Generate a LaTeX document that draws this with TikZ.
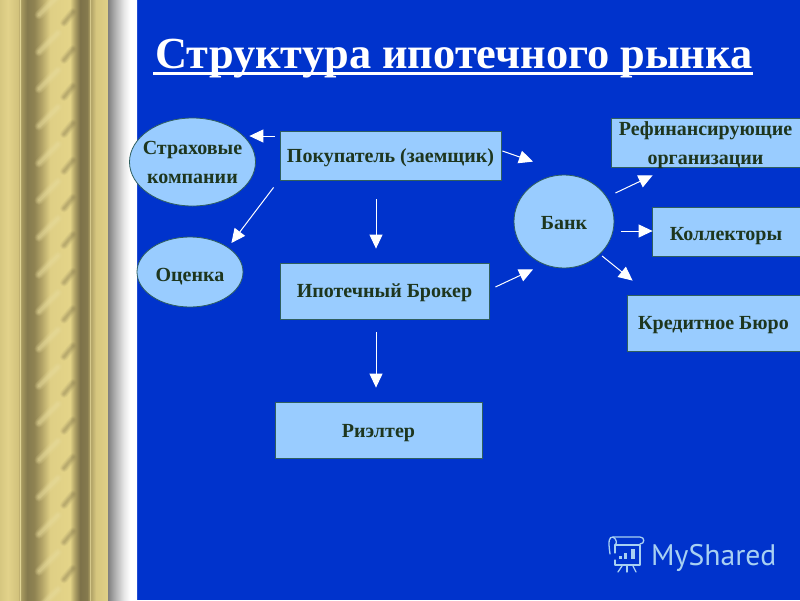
\documentclass[tikz,border=0pt]{standalone}
\usepackage{fontspec}
\setmainfont{Liberation Serif}
\newfontfamily\logofont{PT Sans}
\usetikzlibrary{arrows.meta,shapes.geometric}
\definecolor{bluebg}{HTML}{0033CC}
\definecolor{boxfill}{HTML}{99CCFF}
\definecolor{boxedge}{HTML}{2F5F5F}
\definecolor{ink}{HTML}{1E361E}
\definecolor{logoc}{HTML}{A8D0F2}
\definecolor{cA}{HTML}{D6C780}\definecolor{cB}{HTML}{E2D28A}\definecolor{cC}{HTML}{D2C27C}
\definecolor{cD}{HTML}{B8A96C}\definecolor{cE}{HTML}{E8DC9C}\definecolor{cF}{HTML}{A89A60}
\definecolor{cG}{HTML}{857A4E}\definecolor{cH}{HTML}{8F8352}\definecolor{cI}{HTML}{B4A568}
\definecolor{cJ}{HTML}{DFCF85}\definecolor{cK}{HTML}{E4D488}\definecolor{cL}{HTML}{B0A266}
\definecolor{cM}{HTML}{7C7149}\definecolor{cN}{HTML}{D6C67E}\definecolor{cO}{HTML}{DFD087}
\definecolor{gA}{HTML}{7F7F7F}\definecolor{gB}{HTML}{B0B0B0}\definecolor{gC}{HTML}{E8E8E8}
\pgfdeclarehorizontalshading{columnshade}{100bp}{
color(0bp)=(cA);color(25bp)=(cA);color(27.9bp)=(cB);color(31.6bp)=(cC);color(32.1bp)=(cD);
color(32.3bp)=(cE);color(32.7bp)=(cF);color(34.9bp)=(cG);color(37.5bp)=(cH);color(40.3bp)=(cI);
color(43.3bp)=(cJ);color(50.5bp)=(cK);color(52.2bp)=(cL);color(54.2bp)=(cM);color(56.8bp)=(cG);
color(57.7bp)=(cF);color(57.9bp)=(cE);color(58.2bp)=(cL);color(60bp)=(cN);color(64.2bp)=(cO);
color(64.4bp)=(gA);color(67bp)=(gB);color(70.3bp)=(gC);color(72.5bp)=(white);color(100bp)=(white)}
\tikzset{
  lbl/.style={font=\fontsize{20}{29}\selectfont\bfseries,text=ink,align=center,inner sep=0pt},
  rbox/.style={lbl,rectangle,draw=boxedge,line width=.8pt,fill=boxfill},
  ebox/.style={lbl,ellipse,draw=boxedge,line width=.8pt,fill=boxfill},
  arr/.style={draw=white,line width=1pt,-{Triangle[length=14pt,width=13pt,fill=white]}},
  glow/.style={line cap=round,color=cE},
  logoline/.style={draw=logoc,line width=1.3pt,line cap=round,line join=round}
}
\begin{document}
\begin{tikzpicture}[x=1pt,y=-1pt]
\useasboundingbox (0,0) rectangle (800,600);
\clip (0,0) rectangle (800,600);
\fill[bluebg] (0,0) rectangle (800,600);
\shade[shading=columnshade] (0,0) rectangle (137,600);
% twist highlights of the column
\foreach \k in {-1,...,15}{
  \pgfmathsetmacro{\yy}{53+37.1*\k}
  \foreach \w/\o in {9/.12,7/.16,5/.22,3/.3}{
    \draw[glow,line width=\w pt,opacity=\o] (39,\yy-1) -- (58,\yy-20);
  }
  \foreach \w/\o in {8/.08,6/.1,4/.14,2/.14}{
    \draw[color=cM,line cap=round,line width=\w pt,opacity=\o] (64,\yy+7) -- (73,\yy-4);
  }
}
% title
\node[anchor=base west,inner sep=0pt,text=white,font=\fontsize{44.4}{50}\selectfont\bfseries] (title) at (155,68) {Структура ипотечного рынка};
\draw[white,line width=3pt] ([shift={(-2,5.5)}]title.base west) -- ([shift={(0,5.5)}]title.base east);
% nodes
\node[ebox,inner xsep=-6pt,minimum width=126pt,minimum height=88pt] (ins) at (192.5,162) {Страховые\\компании};
\node[ebox,text height=18.6pt,text depth=0pt,minimum width=106pt,minimum height=70pt] (ocenka) at (190,272) {Оценка};
\node[rbox,text height=13.4pt,text depth=0pt,minimum width=221pt,minimum height=49pt] (buyer) at (390.5,155.5) {Покупатель (заемщик)};
\node[rbox,text height=13.2pt,text depth=0pt,minimum width=209pt,minimum height=56pt] (broker) at (384.5,291) {Ипотечный Брокер};
\node[rbox,text height=15.2pt,text depth=0pt,minimum width=207pt,minimum height=56pt] (realtor) at (378.5,430) {Риэлтер};
\node[ebox,text height=15.4pt,text depth=0pt,minimum width=100pt,minimum height=93pt] (bank) at (564,221.5) {Банк};
\node[rbox,inner ysep=-3pt,minimum width=189pt,minimum height=49pt] (refi) at (705.5,142.5) {\rule{0pt}{18.6pt}Рефинансирующие\\организации};
\node[rbox,text height=17.2pt,text depth=0pt,minimum width=148pt,minimum height=49pt] (koll) at (726,231.5) {Коллекторы};
\node[rbox,text height=13.2pt,text depth=0pt,minimum width=173pt,minimum height=56pt] (credit) at (713.5,323) {Кредитное Бюро};
% connectors
\draw[arr] ([shift={(-5,-19.5)}]buyer.west) -- ([shift={(-6.5,-26)}]ins.east);
\draw[arr] ([shift={(-6,7)}]buyer.south west) -- ([shift={(-12,-29)}]ocenka.east);
\draw[arr] ([shift={(-14.5,19)}]buyer.south) -- ([shift={(-8.5,-14)}]broker.north);
\draw[arr] ([shift={(-8.5,13)}]broker.south) -- ([shift={(-2.5,-14)}]realtor.north);
\draw[arr] ([shift={(1,-4.5)}]buyer.east) -- ([shift={(-31,-13)}]bank.north);
\draw[arr] ([shift={(6,-4)}]broker.east) -- ([shift={(-31,1)}]bank.south);
\draw[arr] ([shift={(1,-28.5)}]bank.east) -- ([shift={(42,8)}]refi.south west);
\draw[arr] ([shift={(7,9.5)}]bank.east) -- ([shift={(1,-.5)}]koll.west);
\draw[arr] ([shift={(-12.3,34.5)}]bank.east) -- ([shift={(6,-14)}]credit.north west);
% watermark
\draw[logoline] (610,554) .. controls (608,540) and (609,537) .. (613,537) -- (640,537) .. controls (645,537) and (645,544) .. (640,544);
\draw[logoline] (613,537) .. controls (617,539) and (617,544) .. (615,545);
\draw[logoline] (615,553) -- (615,545) -- (640,545) -- (640,565) -- (615,565) -- (615,560);
\draw[logoline] (622,566) -- (618,572);
\draw[logoline] (627,566) -- (627,572);
\draw[logoline] (633,566) -- (636,572);
\fill[logoc] (618.5,556) rectangle (621.5,559);
\fill[logoc] (623.5,553) rectangle (627,559);
\fill[logoc] (631,549) rectangle (635,559);
\node[anchor=base west,inner sep=0pt,text=logoc,font=\logofont\fontsize{29.7}{36}\selectfont] (brand) at (651,565) {MyShared};
\end{tikzpicture}
\end{document}
